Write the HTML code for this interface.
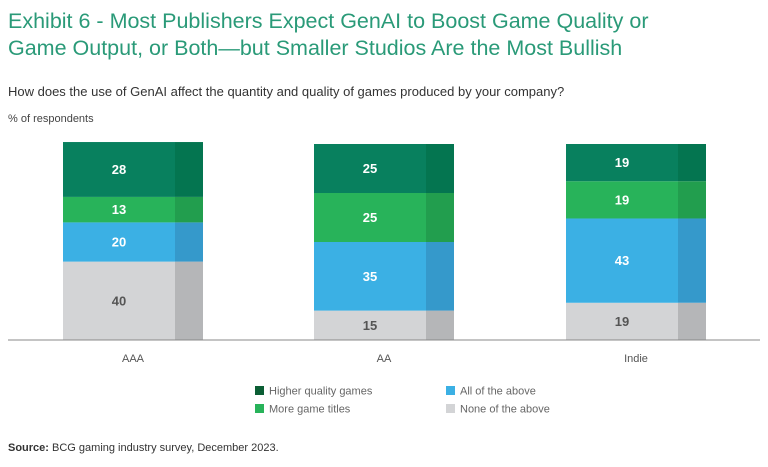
<!DOCTYPE html>
<html><head><meta charset="utf-8"><style>
body{margin:0;width:768px;height:467px;background:#fff;font-family:"Liberation Sans",sans-serif;overflow:hidden;position:relative}
.t{position:absolute;left:8px;top:8px;font-size:21.5px;line-height:27px;color:#2a9a78}
.q{position:absolute;left:8px;top:84px;font-size:13px;color:#333}
.u{position:absolute;left:8px;top:113px;font-size:11px;color:#444}
.s{position:absolute;left:8px;top:442px;font-size:11px;color:#333}
</style></head><body>
<div class="t">Exhibit 6 - Most Publishers Expect GenAI to Boost Game Quality or<br>Game Output, or Both—but Smaller Studios Are the Most Bullish</div>
<div class="q">How does the use of GenAI affect the quantity and quality of games produced by your company?</div>
<div class="u">% of respondents</div>
<div class="s"><b>Source:</b> BCG gaming industry survey, December 2023.</div>
<svg id="c" width="768" height="467" style="position:absolute;left:0;top:0"></svg>
<script>
const categories=["AAA","AA","Indie"];
const higherQuality=[28,25,19];
const moreTitles=[13,25,19];
const allAbove=[20,35,43];
const noneAbove=[40,15,19];
const seriesNames=["Higher quality games","More game titles","All of the above","None of the above"];
const svg=document.getElementById('c');const NS="http://www.w3.org/2000/svg";
function mk(t,a,p){const e=document.createElementNS(NS,t);for(const k in a)e.setAttribute(k,a[k]);(p||svg).appendChild(e);return e;}
const base=340,scale=1.96;
const y=v=>base-v*scale;
const xs=[63,314,566],bw=140,sw=28;
const cols=["#08805e","#28b35a","#3bb0e4","#d3d4d6"],shade=["#047550","#229e4e","#3599cb","#b5b6b8"],txt=["#fff","#fff","#fff","#555"];
const series=[noneAbove,allAbove,moreTitles,higherQuality];const ci=[3,2,1,0];
categories.forEach((c,i)=>{let acc=0;
 series.forEach((s,j)=>{const v=s[i],k=ci[j];const y0=y(acc+v),h=v*scale;
  let r=mk('rect',{x:xs[i],y:y0,width:bw-sw,height:h,fill:cols[k]});
  
  
  let r2=mk('rect',{x:xs[i]+bw-sw,y:y0,width:sw,height:h,fill:shade[k]});
  
  
  let t=mk('text',{x:xs[i]+(bw-sw)/2,y:y0+h/2+4.5,'text-anchor':'middle','font-size':13,'font-weight':'bold',fill:txt[k]});t.textContent=v;
  
  
  acc+=v;});
 let l=mk('text',{x:xs[i]+bw/2,y:362,'text-anchor':'middle','font-size':11,fill:'#555'});l.textContent=c;
 
 
});
let ax=mk('line',{x1:8,x2:760,y1:base,y2:base,stroke:'#888','stroke-width':1});


const lg=[[255,386,0],[255,404,1],[446,386,2],[446,404,3]];
const lc=["#0b5e34","#28b35a","#3bb0e4","#d3d4d6"];
lg.forEach(([lx,ly,k])=>{let r=mk('rect',{x:lx,y:ly,width:9,height:9,fill:lc[k]});
 
 
 let t=mk('text',{x:lx+14,y:ly+8.5,'font-size':11,fill:'#666'});t.textContent=seriesNames[k];
 
 });
</script>
</body></html>
